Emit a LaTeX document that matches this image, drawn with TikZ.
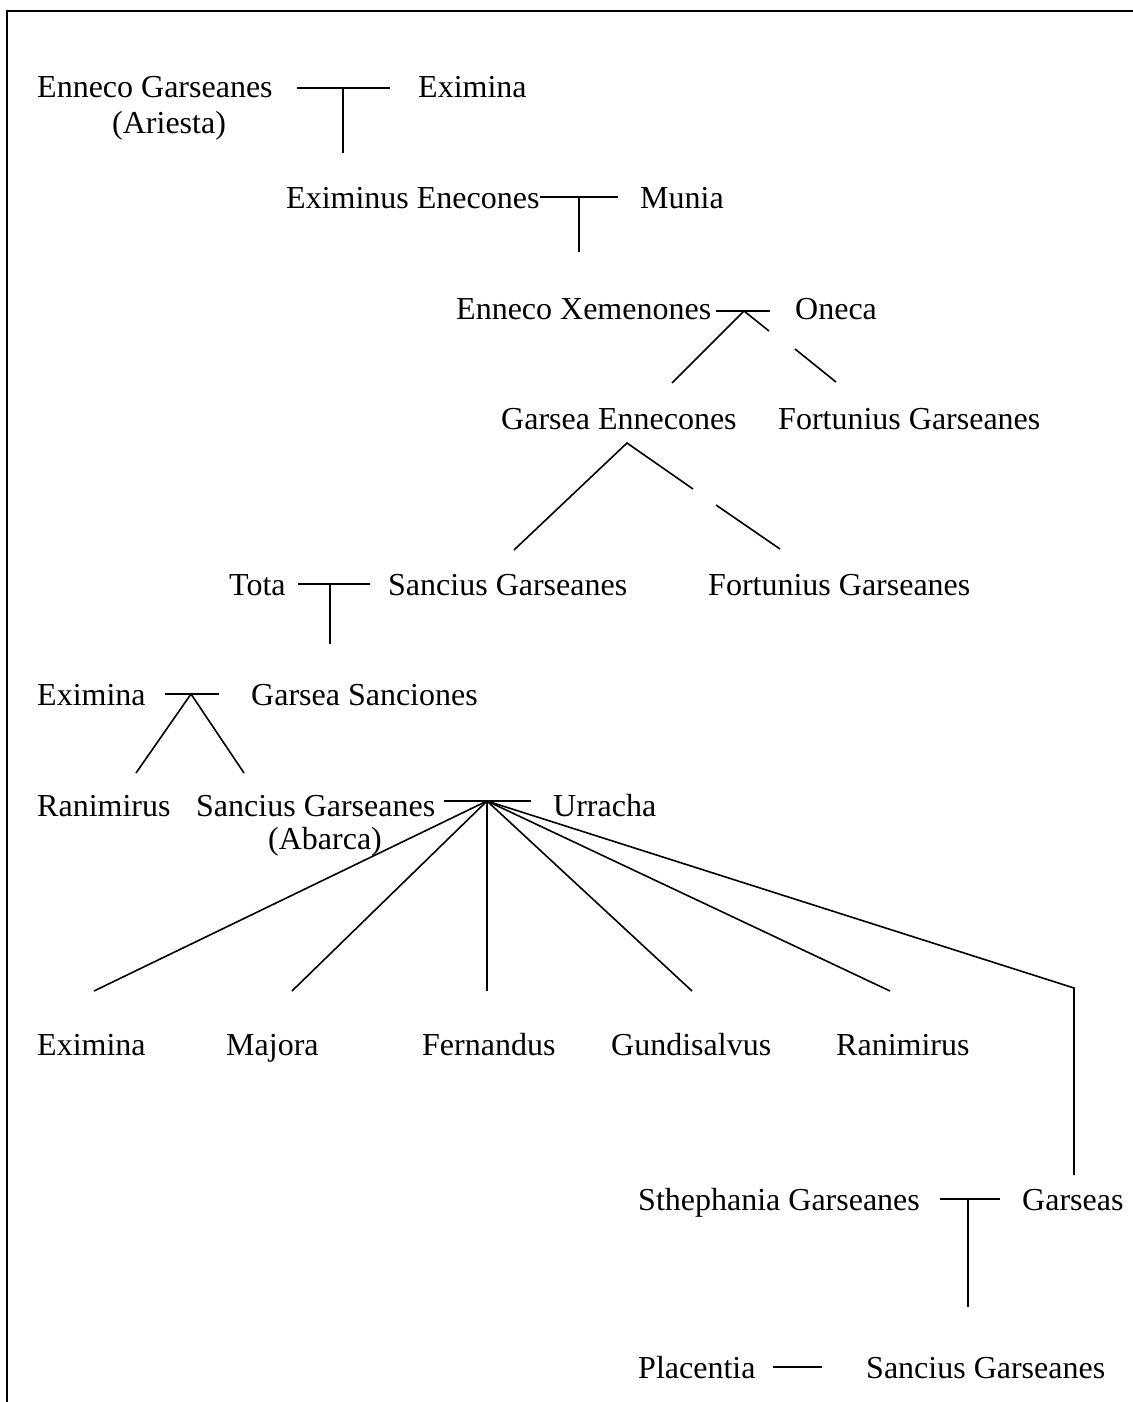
\documentclass[tikz,border=0pt]{standalone}
\usepackage{fontspec}
\setmainfont{Liberation Serif}
\begin{document}
\begin{tikzpicture}[x=1pt,y=-1pt,
  person/.style={inner sep=0pt,anchor=base west,font=\fontsize{32}{36}\selectfont},
  link/.style={line width=1.6pt},
  frameline/.style={line width=2.6pt}]
\useasboundingbox (0,0) rectangle (1132,1402);
% frame (only top and left edges visible)
\coordinate (f0) at (7,11);
\coordinate (f1) at (1140,11);
\coordinate (f2) at (7,1410);
\draw[frameline] (f1) -- (f0) -- (f2);

% row 1
\node[person] (eg) at (37,98) {Enneco Garseanes};
\node[person] (ar) at (112,133) {(Ariesta)};
\node[person] (ex1) at (418,98) {Eximina};
\coordinate (c1l) at (297,88); \coordinate (c1r) at (390,88);
\coordinate (c1m) at (343,88); \coordinate (c1d) at (343,153);
\draw[link] (c1l) -- (c1r); \draw[link] (c1m) -- (c1d);

% row 2
\node[person] (ee) at (286,208) {Eximinus Enecones};
\node[person] (mu) at (640,208) {Munia};
\coordinate (c2l) at (540,197); \coordinate (c2r) at (618,197);
\coordinate (c2m) at (579,197); \coordinate (c2d) at (579,252);
\draw[link] (c2l) -- (c2r); \draw[link] (c2m) -- (c2d);

% row 3
\node[person] (ex) at (456,319) {Enneco Xemenones};
\node[person] (on) at (795,319) {Oneca};
\coordinate (c3l) at (716,311); \coordinate (c3r) at (770,311);
\coordinate (c3m) at (744,311);
\coordinate (c3a) at (672,383);
\coordinate (c3b) at (769,331);
\coordinate (c3c) at (795,349); \coordinate (c3d) at (836,382);
\draw[link] (c3l) -- (c3r);
\draw[link] (c3a) -- (c3m) -- (c3b);
\draw[link] (c3c) -- (c3d);

% row 4
\node[person] (ge) at (501,429) {Garsea Ennecones};
\node[person] (fg1) at (778,429) {Fortunius Garseanes};
\coordinate (c4m) at (627,443);
\coordinate (c4a) at (514,550);
\coordinate (c4b) at (693,489);
\coordinate (c4c) at (716,505); \coordinate (c4d) at (780,549);
\draw[link] (c4a) -- (c4m) -- (c4b);
\draw[link] (c4c) -- (c4d);

% row 5
\node[person] (to) at (229,595) {Tota};
\node[person] (sg1) at (388,595) {Sancius Garseanes};
\node[person] (fg2) at (708,595) {Fortunius Garseanes};
\coordinate (c5l) at (298,584); \coordinate (c5r) at (370,584);
\coordinate (c5m) at (330,584); \coordinate (c5d) at (330,644);
\draw[link] (c5l) -- (c5r); \draw[link] (c5m) -- (c5d);

% row 6
\node[person] (ex2) at (37,705) {Eximina};
\node[person] (gs) at (251,705) {Garsea Sanciones};
\coordinate (c6l) at (165,694); \coordinate (c6r) at (219,694);
\coordinate (c6m) at (191,694);
\coordinate (c6a) at (136,773); \coordinate (c6b) at (244,773);
\draw[link] (c6l) -- (c6r);
\draw[link] (c6a) -- (c6m) -- (c6b);

% row 7
\node[person] (ra1) at (37,816) {Ranimirus};
\node[person] (sg2) at (196,816) {Sancius Garseanes};
\node[person] (ab) at (268,849) {(Abarca)};
\node[person] (ur) at (553,816) {Urracha};
\coordinate (c7l) at (444,801); \coordinate (c7r) at (531,801);
\coordinate (c7m) at (487,801);
\coordinate (k1) at (94,991);
\coordinate (k2) at (292,991);
\coordinate (k3) at (487,991);
\coordinate (k4) at (692,991);
\coordinate (k5) at (890,991);
\coordinate (k6) at (1074,988);
\coordinate (k6d) at (1074,1175);
\draw[link] (c7l) -- (c7r);
\foreach \k in {k1,k2,k3,k4,k5} \draw[link] (c7m) -- (\k);
\draw[link] (c7m) -- (k6) -- (k6d);

% row 8
\node[person] (ex3) at (37,1055) {Eximina};
\node[person] (ma) at (226,1055) {Majora};
\node[person] (fe) at (422,1055) {Fernandus};
\node[person] (gu) at (611,1055) {Gundisalvus};
\node[person] (ra2) at (836,1055) {Ranimirus};

% row 9
\node[person] (sthg) at (638,1210) {Sthephania Garseanes};
\node[person] (gse) at (1022,1210) {Garseas};
\coordinate (c9l) at (940,1199); \coordinate (c9r) at (1000,1199);
\coordinate (c9m) at (968,1199); \coordinate (c9d) at (968,1307);
\draw[link] (c9l) -- (c9r); \draw[link] (c9m) -- (c9d);

% row 10
\node[person] (pl) at (638,1378) {Placentia};
\node[person] (sg3) at (866,1378) {Sancius Garseanes};
\coordinate (c10l) at (773,1367); \coordinate (c10r) at (822,1367);
\draw[link] (c10l) -- (c10r);
\end{tikzpicture}
\end{document}
